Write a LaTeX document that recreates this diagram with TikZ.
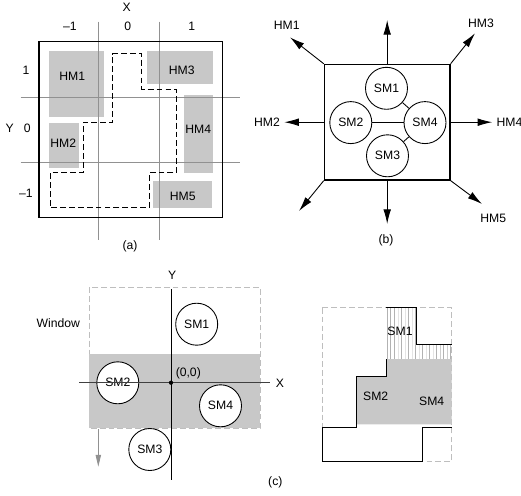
\documentclass[tikz,border=0pt]{standalone}
\usepackage{fontspec}
\setmainfont{Liberation Sans}
\usepackage{xcolor}
\usepackage{tikz}
\usetikzlibrary{positioning,arrows.meta,patterns}
\definecolor{hmgray}{RGB}{200,200,200}
\definecolor{gridgray}{RGB}{145,145,145}
\definecolor{wingray}{RGB}{190,190,190}

\begin{document}
\begin{tikzpicture}[x=0.03cm,y=-0.03cm,line width=0.75pt,
    every node/.style={font=\fontsize{10.4}{12}\selectfont},
    smnode/.style={draw,circle,fill=white,minimum size=1.26cm,inner sep=0pt},
    outarrow/.style={-{Latex[length=12.5pt,width=6.5pt]}},
    outline/.style={dash pattern=on 5pt off 2.6pt}]
  \useasboundingbox (0,0) rectangle (521,496);

  % (a) hard macros placed on the die, with the soft region dashed
  \fill[hmgray] (49,51)    rectangle (104.3,117.3);
  \fill[hmgray] (147.3,51) rectangle (213.3,84.3);
  \fill[hmgray] (184,95)   rectangle (213.3,173.3);
  \fill[hmgray] (49,123.3) rectangle (79.3,168.3);
  \fill[hmgray] (153.3,180.7) rectangle (212,207.7);
  \foreach \x in {98,159.5} \draw[gridgray] (\x,21.7) -- (\x,240);
  \foreach \y in {97,162.7} \draw[gridgray] (20.7,\y) -- (240,\y);
  \draw[line width=1pt] (39,41.7) rectangle (222.3,217.3);
  \draw[outline] (112.3,53.5) -- (141.7,53.5) -- (141.7,89.3) -- (176.7,89.3)
    -- (176.7,172.7) -- (149.3,172.7) -- (149.3,207.7) -- (50,207.7)
    -- (50,172.7) -- (83.3,172.7) -- (83.3,122.3) -- (112.3,122.3) -- cycle;
  \node (hm1a) at (72.3,76.3)  {HM1};
  \node (hm3a) at (181.7,70.7) {HM3};
  \node (hm4a) at (198.3,129)  {HM4};
  \node (hm2a) at (63.3,143.3) {HM2};
  \node (hm5a) at (182.7,196)  {HM5};
  \node (xa)  at (126.7,7.3)  {X};
  \node (xm)  at (70,26)      {–1};
  \node (xz)  at (127.7,26)   {0};
  \node (xp)  at (191.7,26)   {1};
  \node (yp)  at (26,70.7)    {1};
  \node (ya)  at (9.7,128.3)  {Y};
  \node (yz)  at (27.3,128.3) {0};
  \node (ym)  at (26,193.3)   {–1};
  \node (capa) at (130,246)   {(a)};

  % (b) soft macros inside the region, pulled out towards the hard macros
  \node[draw,line width=1pt,minimum width=3.77cm,minimum height=3.47cm] (chip) at (387.2,122.2) {};
  \node[smnode] (sm1) at (386.5,88.3)  {SM1};
  \node[smnode] (sm2) at (350.8,122.6) {SM2};
  \node[smnode] (sm4) at (425,122.6)   {SM4};
  \node[smnode] (sm3) at (387.5,155.8) {SM3};
  \draw (sm1) -- (sm4);
  \draw (sm2) -- (sm4);
  \draw (sm3) -- (sm4);
  \node (hm1b) at (286.7,25.7)  {HM1};
  \node (hm3b) at (481,23.3)    {HM3};
  \node (hm2b) at (267,122.2)   {HM2};
  \node (hm4b) at (509.5,122.2) {HM4};
  \node (hm5b) at (493.3,218.3) {HM5};
  \coordinate (tn) at (387.2,20);
  \coordinate (ts) at (387.2,224);
  \coordinate (tnw) at (290,37.3);
  \coordinate (tne) at (475,33.3);
  \coordinate (tsw) at (299,211);
  \coordinate (tse) at (482,204);
  \draw[outarrow] (chip.north) -- (tn);
  \draw[outarrow] (chip.south) -- (ts);
  \draw[outarrow] (chip.west) -- (hm2b);
  \draw[outarrow] (chip.east) -- (hm4b);
  \draw[outarrow] (chip.north west) -- (tnw);
  \draw[outarrow] (chip.north east) -- (tne);
  \draw[outarrow] (chip.south west) -- (tsw);
  \draw[outarrow] (chip.south east) -- (tse);
  \node (capb) at (386,240) {(b)};

  % (c) window sliding over the soft macros
  \draw[wingray,outline] (89.3,287.3) rectangle (260,428.3);
  \fill[hmgray] (89.3,354) rectangle (260,428.3);
  \node[smnode] (csm1) at (196.7,324.2) {SM1};
  \node[smnode] (csm2) at (117.8,382.8) {SM2};
  \node[smnode] (csm4) at (220.5,405.8) {SM4};
  \node[smnode] (csm3) at (149.8,449.5) {SM3};
  \coordinate (ytop) at (171,289.3);
  \coordinate (ybot) at (171,480);
  \coordinate (xlft) at (79,382.7);
  \coordinate (xrgt) at (270,382.7);
  \coordinate (orig) at (171,382.7);
  \draw (ytop) -- (ybot);
  \draw[black!75] (xlft) -- (xrgt);
  \fill (orig) circle[radius=1.8pt];
  \node (ylab) at (172.3,275)   {Y};
  \node (xlab) at (280,383.3)   {X};
  \node (olab) at (188.3,373.3) {(0,0)};
  \node (wlab) at (58.3,322.7)  {Window};
  \coordinate (mvtop) at (98.3,429);
  \coordinate (mvbot) at (98.3,466.7);
  \draw[gridgray,-{Triangle[length=10pt,width=4.5pt]}] (mvtop) -- (mvbot);
  \node (capc) at (275.3,482) {(c)};

  % (d) resulting shape of the window contents
  \draw[wingray,outline] (322.3,307.7) rectangle (451.7,461.7);
  \fill[pattern=vertical lines,pattern color=gray!60] (386,307.7) -- (416.7,307.7)
    -- (416.7,344) -- (451.7,344) -- (451.7,359) -- (386,359) -- cycle;
  \fill[hmgray] (386,359) -- (451.7,359) -- (451.7,424.3) -- (356.3,424.3)
    -- (356.3,376) -- (386,376) -- cycle;
  \draw (451.7,427.3) -- (422.7,427.3) -- (422.7,461.7) -- (322.3,461.7)
    -- (322.3,427.3) -- (356.3,427.3) -- (356.3,376) -- (386,376) -- (386,359);
  \draw (386,307.7) -- (416.7,307.7) -- (416.7,344) -- (451.7,344);
  \node (dsm1) at (400,331.7)   {SM1};
  \node (dsm2) at (375.7,396.7) {SM2};
  \node (dsm4) at (431.7,401)   {SM4};
\end{tikzpicture}
\end{document}
